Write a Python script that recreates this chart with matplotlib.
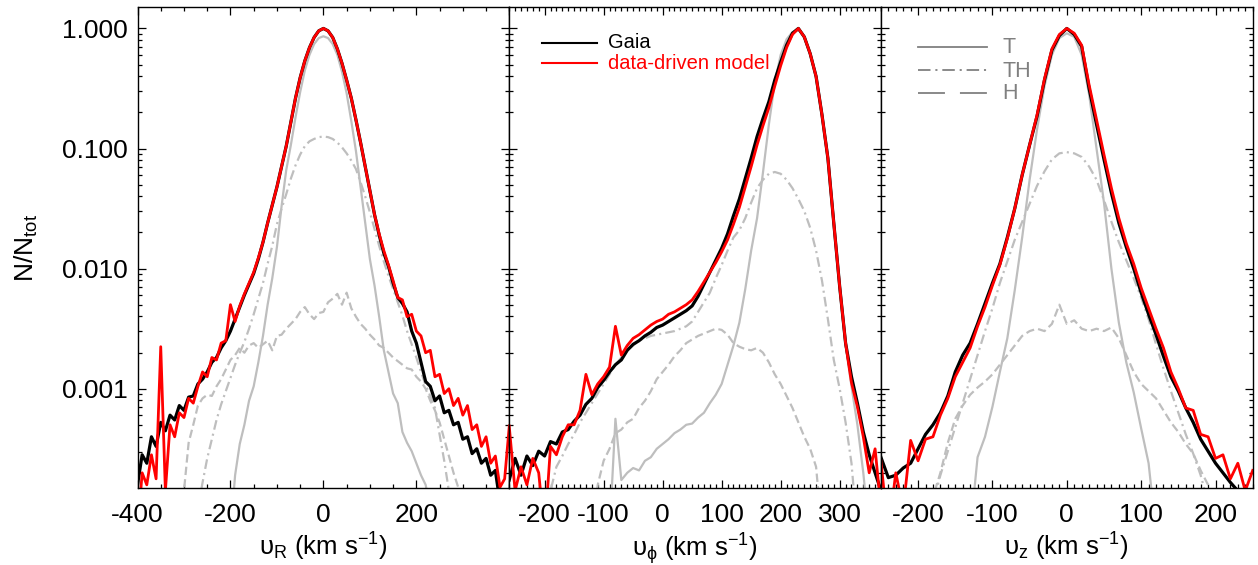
import numpy as np
import matplotlib
matplotlib.use("Agg")
import matplotlib.pyplot as plt
from matplotlib.ticker import FixedLocator, FixedFormatter, MultipleLocator, LogLocator, NullFormatter

plt.rcParams['font.family'] = ['Liberation Sans', 'DejaVu Sans']
plt.rcParams['mathtext.fontset'] = 'custom'
plt.rcParams['mathtext.rm'] = 'Liberation Sans'
plt.rcParams['mathtext.it'] = 'Liberation Sans:italic'
plt.rcParams['mathtext.bf'] = 'Liberation Sans:bold'
plt.rcParams['mathtext.fallback'] = 'stixsans'
plt.rcParams['lines.scale_dashes'] = False

# ---------------- data (log10 of N/Ntot) ----------------
# panel 1: v_R bins
vR = np.arange(-400, 401, 10)
gaia_R = [-3.80, -3.55, -3.62, -3.40, -3.48, -3.28, -3.35, -3.22, -3.26, -3.14,
          -3.18, -3.07, -3.06, -2.96, -2.92, -2.86, -2.78, -2.74, -2.66, -2.60,
          -2.52, -2.42, -2.32, -2.22, -2.13, -2.04, -1.92, -1.78, -1.62, -1.47,
          -1.32, -1.15, -0.98, -0.78, -0.58, -0.41, -0.27, -0.16, -0.075, -0.02,
          0.00, -0.02, -0.075, -0.17, -0.29, -0.43, -0.58, -0.76, -0.95, -1.15,
          -1.35, -1.55, -1.72, -1.87, -1.98, -2.12, -2.24, -2.29, -2.36, -2.52,
          -2.62, -2.78, -2.94, -2.98, -3.10, -3.06, -3.20, -3.18, -3.30, -3.28,
          -3.42, -3.40, -3.54, -3.50, -3.62, -3.58, -3.72, -3.68, -3.95, -4.20,
          -4.20]
model_R = [-4.20, -3.70, -3.80, -3.55, -3.75, -2.65, -3.85, -3.30, -3.40, -3.20,
           -3.24, -3.08, -3.12, -2.98, -2.86, -2.90, -2.74, -2.76, -2.62, -2.60,
           -2.30, -2.44, -2.31, -2.21, -2.12, -2.03, -1.91, -1.78, -1.62, -1.47,
           -1.32, -1.15, -0.98, -0.78, -0.58, -0.41, -0.27, -0.16, -0.075, -0.02,
           0.00, -0.02, -0.075, -0.17, -0.29, -0.43, -0.58, -0.76, -0.95, -1.15,
           -1.35, -1.55, -1.71, -1.85, -1.97, -2.10, -2.24, -2.26, -2.40, -2.38,
           -2.52, -2.56, -2.70, -2.68, -2.90, -2.88, -3.04, -3.00, -3.14, -3.08,
           -3.22, -3.14, -3.34, -3.30, -3.48, -3.40, -3.62, -3.56, -3.82, -3.75,
           -3.31]
thin_R = [-4.2] * 20 + [
          -4.20, -3.72, -3.46, -3.30, -3.10, -2.98, -2.78, -2.56, -2.30, -2.08,
          -1.82, -1.48, -1.18, -0.97, -0.74, -0.53, -0.35, -0.22, -0.13, -0.08,
          -0.065, -0.08, -0.13, -0.22, -0.36, -0.54, -0.77, -1.02, -1.32, -1.62,
          -1.92, -2.14, -2.40, -2.68, -2.86, -3.04, -3.12, -3.36, -3.45, -3.52,
          -3.62, -3.72, -3.80, -4.00, -4.20, -4.20, -4.20, -4.20, -4.20, -4.20] + [-4.2] * 11
thick_R = [-4.2] * 10 + [
           -4.20, -4.20, -4.20, -4.00, -3.78, -3.58, -3.42, -3.26, -3.13, -3.02,
           -2.91, -2.80, -2.70, -2.61, -2.50, -2.38, -2.25, -2.12, -1.96, -1.81,
           -1.63, -1.50, -1.38, -1.25, -1.14, -1.05, -0.98, -0.94, -0.92, -0.905,
           -0.90, -0.905, -0.92, -0.95, -0.99, -1.04, -1.10, -1.17, -1.28, -1.40,
           -1.53, -1.67, -1.81, -1.94, -2.06, -2.17, -2.28, -2.39, -2.52, -2.63,
           -2.74, -2.86, -2.97, -3.06, -3.16, -3.38, -3.60, -3.85, -4.20, -4.20] + [-4.2] * 11
halo_R = [-4.2] * 10 + [
          -3.85, -3.45, -3.30, -3.14, -3.08, -3.05, -3.06, -2.98, -2.92, -2.84,
          -2.76, -2.72, -2.66, -2.70, -2.64, -2.62, -2.66, -2.63, -2.60, -2.68,
          -2.56, -2.55, -2.50, -2.46, -2.42, -2.36, -2.32, -2.38, -2.42, -2.37,
          -2.36, -2.28, -2.25, -2.21, -2.30, -2.20, -2.33, -2.40, -2.46, -2.50,
          -2.55, -2.59, -2.64, -2.66, -2.70, -2.74, -2.77, -2.80, -2.83, -2.84,
          -2.90, -2.94, -3.00, -3.10, -3.18, -3.28, -3.42, -3.56, -3.70, -3.82] + [-4.2] * 11

# panel 2: v_phi bins
vphi = np.arange(-260, 371, 10)
gaia_phi = [-3.76, -3.58, -3.72, -3.56, -3.64, -3.52, -3.56, -3.44, -3.46, -3.36,
            -3.34, -3.27, -3.22, -3.13, -3.08, -2.99, -2.93, -2.86, -2.80, -2.76,
            -2.68, -2.63, -2.60, -2.56, -2.53, -2.49, -2.47, -2.44, -2.41, -2.38,
            -2.35, -2.31, -2.23, -2.13, -2.03, -1.93, -1.83, -1.71, -1.56, -1.42,
            -1.25, -1.08, -0.90, -0.75, -0.61, -0.43, -0.28, -0.14, -0.04, 0.00,
            -0.07, -0.21, -0.40, -0.72, -1.08, -1.62, -2.15, -2.62, -2.90, -3.12,
            -3.36, -3.55, -3.70, -3.85]
model_phi = [-3.31, -3.85, -3.65, -3.80, -3.58, -3.70, -4.20, -3.48, -3.55, -3.40,
             -3.30, -3.30, -3.18, -2.88, -3.05, -2.96, -2.90, -2.82, -2.48, -2.72,
             -2.64, -2.58, -2.55, -2.51, -2.47, -2.44, -2.42, -2.38, -2.36, -2.33,
             -2.30, -2.26, -2.19, -2.11, -2.03, -1.95, -1.86, -1.76, -1.63, -1.49,
             -1.32, -1.15, -0.97, -0.81, -0.66, -0.48, -0.31, -0.16, -0.05, 0.00,
             -0.07, -0.21, -0.40, -0.72, -1.08, -1.62, -2.15, -2.62, -2.95, -3.15,
             -3.40, -3.70, -3.50, -4.00]
thin_phi = [-4.2] * 18 + [-3.25, -3.76,
            -3.70, -3.66, -3.68, -3.60, -3.57, -3.50, -3.46, -3.42, -3.37, -3.34,
            -3.30, -3.29, -3.24, -3.20, -3.12, -3.05, -2.96, -2.80, -2.64, -2.45,
            -2.17, -1.85, -1.58, -1.20, -0.80, -0.45, -0.22, -0.09, -0.03, -0.01,
            -0.07, -0.21, -0.40, -0.72, -1.08, -1.62, -2.15, -2.64, -2.98, -3.30,
            -3.70, -4.20, -4.20, -4.20]
thick_phi = [-4.20, -4.20, -4.20, -4.20, -4.20, -4.20, -4.20, -3.85, -3.65, -3.56,
             -3.46, -3.38, -3.28, -3.20, -3.12, -3.04, -2.96, -2.88, -2.80, -2.74,
             -2.68, -2.64, -2.60, -2.58, -2.56, -2.55, -2.54, -2.53, -2.52, -2.50,
             -2.48, -2.44, -2.36, -2.28, -2.20, -2.08, -1.97, -1.85, -1.74, -1.68,
             -1.58, -1.45, -1.33, -1.26, -1.21, -1.195, -1.21, -1.26, -1.33, -1.42,
             -1.52, -1.66, -1.85, -2.10, -2.42, -2.76, -3.00, -3.28, -3.62, -4.20,
             -4.20, -4.20, -4.20, -4.20]
halo_phi = [-4.2] * 15 + [-3.80, -3.60, -3.50, -3.37, -3.34,
            -3.28, -3.25, -3.16, -3.10, -3.02, -2.92, -2.86, -2.80, -2.73, -2.68,
            -2.62, -2.59, -2.56, -2.54, -2.52, -2.50, -2.51, -2.55, -2.62, -2.65,
            -2.67, -2.68, -2.66, -2.70, -2.78, -2.88, -2.96, -3.06, -3.16, -3.28,
            -3.40, -3.50, -3.65, -4.20, -4.20, -4.20, -4.20, -4.20, -4.20, -4.20,
            -4.20, -4.20, -4.20, -4.20]

# panel 3: v_z bins
vz = np.arange(-250, 251, 10)
gaia_z = [-3.57, -3.74, -3.72, -3.66, -3.62, -3.50, -3.38, -3.30, -3.20, -3.06,
          -2.86, -2.72, -2.62, -2.46, -2.29, -2.12, -1.96, -1.74, -1.50, -1.22,
          -0.97, -0.73, -0.43, -0.18, -0.06, 0.00, -0.05, -0.15, -0.50, -0.80,
          -1.09, -1.37, -1.62, -1.82, -2.00, -2.20, -2.38, -2.55, -2.73, -2.90,
          -3.02, -3.16, -3.28, -3.42, -3.52, -3.62, -3.70, -3.78, -3.85, -4.20,
          -4.20]
model_z = [-3.60, -4.20, -3.70, -4.00, -3.43, -3.60, -3.42, -3.40, -3.22, -3.08,
           -2.90, -2.78, -2.66, -2.48, -2.32, -2.14, -1.97, -1.75, -1.50, -1.22,
           -0.97, -0.72, -0.42, -0.17, -0.05, 0.00, -0.04, -0.14, -0.47, -0.76,
           -1.05, -1.33, -1.58, -1.79, -1.96, -2.16, -2.33, -2.50, -2.66, -2.86,
           -3.00, -3.16, -3.18, -3.38, -3.40, -3.58, -3.55, -3.75, -3.62, -3.85,
           -3.68]
thin_z = [-4.2] * 13 + [-3.57, -3.40, -3.15, -2.86, -2.58, -2.18, -1.74,
          -1.26, -0.84, -0.48, -0.22, -0.08, -0.04, -0.07, -0.22, -0.55, -1.00,
          -1.45, -2.00, -2.45, -2.78, -3.03, -3.33, -3.62] + [-4.2] * 14
thick_z = [-4.20, -4.20, -4.20, -4.20, -4.20, -4.20, -4.20, -3.95, -3.72, -3.52,
           -3.32, -3.12, -2.92, -2.72, -2.52, -2.33, -2.12, -1.94, -1.76, -1.61,
           -1.46, -1.31, -1.19, -1.09, -1.04, -1.03, -1.04, -1.07, -1.15, -1.26,
           -1.43, -1.61, -1.78, -1.93, -2.08, -2.24, -2.42, -2.63, -2.83, -3.02,
           -3.20, -3.38, -3.54, -3.72, -3.95, -4.20, -4.20, -4.20, -4.20, -4.20,
           -4.20]
halo_z = [-4.20, -4.20, -4.20, -4.20, -4.20, -4.20, -4.20, -3.90, -3.70, -3.45,
          -3.25, -3.14, -3.05, -2.99, -2.94, -2.88, -2.80, -2.72, -2.64, -2.56,
          -2.52, -2.50, -2.52, -2.46, -2.30, -2.46, -2.43, -2.50, -2.52, -2.50,
          -2.52, -2.49, -2.58, -2.72, -2.86, -2.96, -3.02, -3.08, -3.18, -3.28,
          -3.36, -3.46, -3.54, -3.68, -3.80, -4.20, -4.20, -4.20, -4.20, -4.20,
          -4.20]

xlims = [(-400, 400), (-260, 370), (-250, 250)]
xmajor = [[-400, -200, 0, 200, 400], [-200, -100, 0, 100, 200, 300], [-200, -100, 0, 100, 200]]
xlabels_t = [['-400', '-200', '0', '200', ''],
             ['-200', '-100', '0', '100', '200', '300'],
             ['-200', '-100', '0', '100', '200']]
xminor = [50, 10, 10]
xtitles = ['υ$_{\\mathrm{R}}$ (km s$^{-1}$)', 'υ$_{\\mathrm{ϕ}}$ (km s$^{-1}$)', 'υ$_{\\mathrm{z}}$ (km s$^{-1}$)']
yticks = [1e-3, 1e-2, 1e-1, 1.0]
ytick_labels = ['0.001', '0.010', '0.100', '1.000']

panels = [(vR, gaia_R, model_R, thin_R, thick_R, halo_R),
          (vphi, gaia_phi, model_phi, thin_phi, thick_phi, halo_phi),
          (vz, gaia_z, model_z, thin_z, thick_z, halo_z)]

# ---------------- layout ----------------
W, H = 1258, 565
fig = plt.figure(figsize=(W / 100, H / 100), dpi=100)
lefts = [137.5, 509.2, 880.9]
wpx = 371.8
top, bot = 7.3, 487.7
gray = '#BEBEBE'
axes = []
for i in range(3):
    ax = fig.add_axes([lefts[i] / W, (H - bot) / H, wpx / W, (bot - top) / H])
    axes.append(ax)
    v, g, m, t, th, h = panels[i]
    ax.plot(v, 10 ** np.array(t), color=gray, lw=1.6)
    l1, = ax.plot(v, 10 ** np.array(th), color=gray, lw=1.6)
    l1.set_dashes((7, 3, 1.5, 3))
    l2, = ax.plot(v, 10 ** np.array(h), color=gray, lw=1.6)
    l2.set_dashes((6, 3))
    ax.plot(v, 10 ** np.array(g), color='black', lw=2.3)
    ax.plot(v, 10 ** np.array(m), color='red', lw=2.0)
    ax.set_yscale('log')
    ax.set_ylim(1.5e-4, 1.5)
    ax.set_xlim(*xlims[i])
    ax.yaxis.set_major_locator(FixedLocator(yticks))
    ax.yaxis.set_minor_locator(LogLocator(base=10, subs=np.arange(2, 10)))
    ax.yaxis.set_minor_formatter(NullFormatter())
    if i == 0:
        ax.yaxis.set_major_formatter(FixedFormatter(ytick_labels))
    else:
        ax.yaxis.set_major_formatter(NullFormatter())
    ax.xaxis.set_major_locator(FixedLocator(xmajor[i]))
    ax.xaxis.set_major_formatter(FixedFormatter(xlabels_t[i]))
    ax.xaxis.set_minor_locator(MultipleLocator(xminor[i]))
    ax.tick_params(which='both', direction='in', top=True, right=True, width=0.9, color='black')
    ax.tick_params(which='major', length=6)
    ax.tick_params(which='minor', length=3)
    ax.tick_params(axis='x', which='major', labelsize=19, pad=11)
    ax.tick_params(axis='y', which='major', labelsize=19, pad=7)
    for s in ax.spines.values():
        s.set_linewidth(1.0)
    ax.set_xlabel(xtitles[i], fontsize=18.5)
    ax.xaxis.set_label_coords(0.5, -0.090)

axes[0].set_ylabel('N/N$_{\\mathrm{tot}}$', fontsize=19)
axes[0].yaxis.set_label_coords(-0.262, 0.5)

# legend in middle panel
ax = axes[1]
ax.plot([0.0874, 0.2353], [0.9263, 0.9263], transform=ax.transAxes, color='black', lw=1.5)
ax.plot([0.0874, 0.2353], [0.8847, 0.8847], transform=ax.transAxes, color='red', lw=1.5)
ax.text(0.2669, 0.9147, 'Gaia', transform=ax.transAxes, fontsize=14.5, color='black', va='baseline')
ax.text(0.2669, 0.8716, 'data-driven model', transform=ax.transAxes, fontsize=14.5, color='red', va='baseline')

# legend in right panel
ax = axes[2]
lg = '#808080'
ax.plot([0.1006, 0.2862], [0.918, 0.918], transform=ax.transAxes, color=lg, lw=1.3)
a, = ax.plot([0.1006, 0.2862], [0.8695, 0.8695], transform=ax.transAxes, color=lg, lw=1.3)
a.set_dashes((9, 3.5, 1.5, 3.5))
b, = ax.plot([0.1006, 0.2862], [0.821, 0.821], transform=ax.transAxes, color=lg, lw=1.3)
b.set_dashes((19.4, 10.8))
ax.text(0.3276, 0.904, 'T', transform=ax.transAxes, fontsize=15.5, color=lg, va='baseline')
ax.text(0.3276, 0.8555, 'TH', transform=ax.transAxes, fontsize=15.5, color=lg, va='baseline')
ax.text(0.3276, 0.8085, 'H', transform=ax.transAxes, fontsize=15.5, color=lg, va='baseline')

fig.savefig('out.png', dpi=100)
